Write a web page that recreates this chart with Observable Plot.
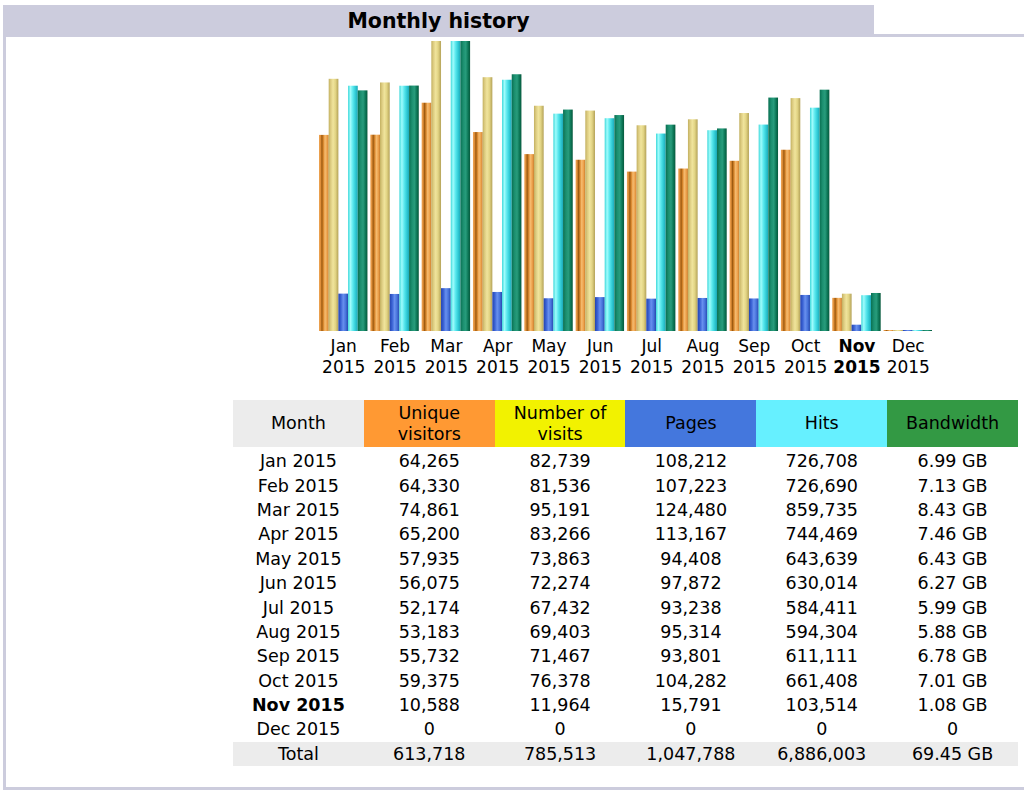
<!DOCTYPE html>
<html><head><meta charset="utf-8">
<script src="https://cdn.jsdelivr.net/npm/d3@7"></script>
<script src="https://cdn.jsdelivr.net/npm/@observablehq/plot@0.6"></script>
<style>
body{margin:0;background:#fff;font-family:"DejaVu Sans",Verdana,sans-serif;color:#000;}
#page{position:relative;width:1024px;height:791px;overflow:hidden;}
#box{position:absolute;left:3px;top:34px;width:1040px;height:756px;border:3px solid #ccccdd;box-sizing:border-box;}
#tab{position:absolute;left:3px;top:5px;width:871px;height:32px;background:#ccccdd;text-align:center;font-weight:bold;font-size:20.5px;line-height:32px;}
#chart{position:absolute;left:0;top:0;}
#tbl{position:absolute;left:233px;top:400px;border-collapse:collapse;table-layout:fixed;width:785px;font-size:17.5px;}
#tbl td,#tbl th{padding:0;text-align:center;font-weight:normal;}
#tbl th{height:47px;line-height:21px;border-bottom:2px solid #fff;}
#tbl td{height:24.4px;line-height:24px;}
#tbl tr.total td{background:#ececec;}
</style></head>
<body><div id="page"><div id="box"></div><div id="tab">Monthly history</div><div id="chart"></div><table id="tbl"></table></div>
<script>
const months = ["Jan 2015","Feb 2015","Mar 2015","Apr 2015","May 2015","Jun 2015","Jul 2015","Aug 2015","Sep 2015","Oct 2015","Nov 2015","Dec 2015"];
const currentMonth = "Nov 2015";
const visitors = [64265,64330,74861,65200,57935,56075,52174,53183,55732,59375,10588,0];
const visits = [82739,81536,95191,83266,73863,72274,67432,69403,71467,76378,11964,0];
const pages = [108212,107223,124480,113167,94408,97872,93238,95314,93801,104282,15791,0];
const hits = [726708,726690,859735,744469,643639,630014,584411,594304,611111,661408,103514,0];
const bandwidthGB = [6.99,7.13,8.43,7.46,6.43,6.27,5.99,5.88,6.78,7.01,1.08,0];
const seriesNames = ["visitors","visits","pages","hits","bandwidth"];
const headers = ["Month","Unique<br>visitors","Number of<br>visits","Pages","Hits","Bandwidth"];
const headerColors = ["#ececec","#ff9933","#f2f200","#4477dd","#66f0ff","#339944"];

const values = {visitors, visits, pages, hits, bandwidth: bandwidthGB};
const maxV = d3.max(visits), maxH = d3.max(hits), maxK = d3.max(bandwidthGB);
const scaleMax = {visitors: maxV, visits: maxV, pages: maxH, hits: maxH, bandwidth: maxK};
const rows = months.flatMap((m, i) => seriesNames.map(s => ({month: m, series: s, v: values[s][i] / scaleMax[s]})));

const gradients = {
  visitors: [[0,"#eea656"],[0.15,"#e2903a"],[0.3,"#9c5a10"],[0.45,"#d8862c"],[0.62,"#f6bc70"],[0.82,"#eea24c"],[1,"#c87c2c"]],
  visits: [[0,"#c2b060"],[0.2,"#dccb80"],[0.45,"#f0e49c"],[0.7,"#e2d484"],[1,"#b4a258"]],
  pages: [[0,"#2444b0"],[0.25,"#3a62d4"],[0.5,"#6890ee"],[0.75,"#4874dc"],[1,"#2648ae"]],
  hits: [[0,"#3cd8da"],[0.25,"#a0fcfc"],[0.5,"#5ae8ee"],[0.75,"#32ccd6"],[1,"#1ca8b8"]],
  bandwidth: [[0,"#0a7052"],[0.3,"#1c9070"],[0.55,"#289c7c"],[0.8,"#0c7656"],[1,"#06583c"]]
};

const labels = months.map(m => ({month: m, text: m.replace(" ", "\n")}));

const chart = Plot.plot({
  width: 1024, height: 381,
  marginTop: 42, marginBottom: 50, marginLeft: 319, marginRight: 92,
  style: {fontFamily: "DejaVu Sans, Verdana, sans-serif", background: "transparent", color: "#000"},
  fx: {domain: months, padding: 0.056, round: false, axis: null},
  x: {domain: seriesNames, padding: 0, round: false, axis: null},
  y: {domain: [0, 1], axis: null},
  marks: [
    ...seriesNames.map(s => Plot.barY(rows.filter(r => r.series === s), {fx: "month", x: "series", y1: 0, y2: "v", fill: `url(#grad-${s})`, insetTop: -1})),
    Plot.text(labels.filter(d => d.month !== currentMonth), {fx: "month", text: "text", frameAnchor: "bottom", lineAnchor: "top", dy: 5, fontSize: 17, lineHeight: 1.25, fill: "#000"}),
    Plot.text(labels.filter(d => d.month === currentMonth), {fx: "month", text: "text", frameAnchor: "bottom", lineAnchor: "top", dy: 5, fontSize: 17, lineHeight: 1.25, fill: "#000", fontWeight: "bold"})
  ]
});
const defs = d3.select(chart).insert("defs", ":first-child");
for (const s of seriesNames) {
  const g = defs.append("linearGradient").attr("id", `grad-${s}`).attr("x1", 0).attr("x2", 1).attr("y1", 0).attr("y2", 0);
  for (const [o, c] of gradients[s]) g.append("stop").attr("offset", o).attr("stop-color", c);
}
document.getElementById("chart").appendChild(chart);

// table
const fmt = d3.format(",");
const tbl = d3.select("#tbl");
const hr = tbl.append("tr");
headers.forEach((h, i) => hr.append("th").style("background", headerColors[i]).html(h));
months.forEach((m, i) => {
  const tr = tbl.append("tr");
  tr.append("td").style("font-weight", m === currentMonth ? "bold" : "normal").text(m);
  tr.append("td").text(fmt(visitors[i]));
  tr.append("td").text(fmt(visits[i]));
  tr.append("td").text(fmt(pages[i]));
  tr.append("td").text(fmt(hits[i]));
  tr.append("td").text(bandwidthGB[i] ? bandwidthGB[i].toFixed(2) + " GB" : "0");
});
const tt = tbl.append("tr").attr("class", "total");
tt.append("td").text("Total");
tt.append("td").text(fmt(d3.sum(visitors)));
tt.append("td").text(fmt(d3.sum(visits)));
tt.append("td").text(fmt(d3.sum(pages)));
tt.append("td").text(fmt(d3.sum(hits)));
tt.append("td").text(d3.sum(bandwidthGB).toFixed(2) + " GB");
</script></body></html>
